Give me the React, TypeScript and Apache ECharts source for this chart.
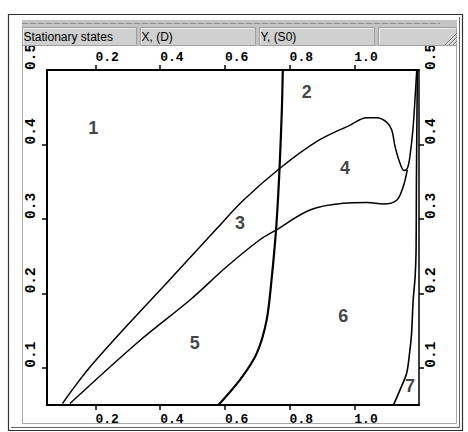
import React, { useEffect, useRef } from "react";
import * as echarts from "echarts";

// axis ticks / labels
const xTickValues = [0.2, 0.4, 0.6, 0.8, 1.0];
const yTickValues = [0.1, 0.2, 0.3, 0.4];
const yLabelValues = [0.1, 0.2, 0.3, 0.4, 0.5];

// upper boundary curve (regions 1/3/4 vs 2)
const upperX = [0.098, 0.131, 0.183, 0.296, 0.42, 0.575, 0.657, 0.77, 0.888, 0.987, 1.038, 1.069, 1.1, 1.116, 1.126, 1.141, 1.154, 1.164, 1.172, 1.182, 1.19, 1.193];
const upperY = [0.052, 0.072, 0.101, 0.156, 0.214, 0.287, 0.325, 0.368, 0.405, 0.426, 0.436, 0.436, 0.43, 0.419, 0.397, 0.375, 0.365, 0.368, 0.384, 0.424, 0.478, 0.5];

// lower boundary curve (regions 3/4 vs 5/6)
const lowerX = [0.121, 0.338, 0.492, 0.606, 0.708, 0.758, 0.863, 0.966, 1.04, 1.09, 1.131, 1.151, 1.16, 1.164];
const lowerY = [0.052, 0.137, 0.191, 0.236, 0.272, 0.285, 0.312, 0.321, 0.322, 0.32, 0.325, 0.343, 0.358, 0.366];

// near-vertical middle boundary
const midX = [0.58, 0.647, 0.698, 0.729, 0.745, 0.758, 0.765, 0.77, 0.776, 0.779];
const midY = [0.05, 0.084, 0.119, 0.164, 0.222, 0.285, 0.334, 0.379, 0.446, 0.5];

// right boundary (region 6 vs 7)
const rightX = [1.121, 1.141, 1.162, 1.172, 1.177, 1.182, 1.188, 1.191, 1.192, 1.195];
const rightY = [0.05, 0.07, 0.093, 0.124, 0.146, 0.191, 0.222, 0.258, 0.35, 0.5];

// region labels
const regionNames = ["1", "2", "3", "4", "5", "6", "7"];
const regionX = [0.193, 0.853, 0.647, 0.971, 0.507, 0.966, 1.172];
const regionY = [0.422, 0.471, 0.294, 0.368, 0.133, 0.169, 0.075];

// header captions
const headerCaptions = ["Stationary states", "X, (D)", "Y, (S0)"];

const zip = (xs: number[], ys: number[]) => xs.map((x, i) => [x, ys[i]]);

export default function App() {
  const ref = useRef<HTMLDivElement>(null);
  useEffect(() => {
    document.body.style.margin = "0";
    const chart = echarts.init(ref.current!, null, { renderer: "svg" });
    const labelFont = {
      fontFamily: "Liberation Mono",
      fontWeight: "bold" as const,
      color: "#000",
    };
    const fmt = (v: number) => v.toFixed(1);
    const xAxisBase = (position: "top" | "bottom", margin: number) => ({
      type: "value" as const,
      position,
      min: 0.05,
      max: 1.2,
      splitLine: { show: false },
      axisLine: { show: true, lineStyle: { color: "#000", width: 2 } },
      axisTick: {
        show: true,
        length: 5,
        customValues: xTickValues,
        lineStyle: { color: "#000", width: 1.5 },
      },
      axisLabel: {
        ...labelFont,
        fontSize: 13,
        customValues: xTickValues,
        formatter: fmt,
        align: "left",
        verticalAlign: "middle",
        margin,
      },
    });
    const yAxisBase = (position: "left" | "right", margin: number, lw: number) => ({
      type: "value" as const,
      position,
      min: 0.05,
      max: 0.5,
      splitLine: { show: false },
      axisLine: { show: true, lineStyle: { color: "#000", width: lw } },
      axisTick: {
        show: true,
        length: 5,
        customValues: yTickValues,
        lineStyle: { color: "#000", width: 1.5 },
      },
      axisLabel: {
        ...labelFont,
        fontSize: 14.5,
        customValues: yLabelValues,
        formatter: fmt,
        rotate: 90,
        align: "left",
        verticalAlign: "middle",
        margin,
      },
    });
    const lineSeries = (xs: number[], ys: number[], width: number, smooth: number) => ({
      type: "line" as const,
      data: zip(xs, ys),
      showSymbol: false,
      symbol: "none",
      smooth,
      lineStyle: { color: "#000", width },
      z: 3,
    });

    const headerCells = [
      [22, 137],
      [140, 256],
      [259, 375],
      [378, 457],
    ];
    const graphics: any[] = [
      {
        type: "rect",
        z: -5,
        shape: { x: 8.5, y: 14.5, width: 454, height: 416 },
        style: { fill: "none", stroke: "#333", lineWidth: 1.2 },
      },
      {
        type: "polyline",
        z: -5,
        shape: { points: [[459.5, 17], [459.5, 427.5], [11, 427.5]] },
        style: { stroke: "#666", lineWidth: 1, fill: "none" },
      },
      {
        type: "rect",
        z: -5,
        shape: { x: 22.5, y: 20.5, width: 434, height: 403 },
        style: { fill: "none", stroke: "#a8a8a8", lineWidth: 1 },
      },
      {
        type: "rect",
        z: 100,
        shape: { x: 22, y: 20, width: 435, height: 26 },
        style: { fill: "#c3c3c3" },
      },
      {
        type: "line",
        z: 101,
        shape: { x1: 22, y1: 23.5, x2: 440, y2: 23.5 },
        style: { stroke: "#8c8c8c", lineWidth: 1, lineDash: [6, 2] },
      },
    ];
    headerCells.forEach(([a, b]) => {
      graphics.push({
        type: "rect",
        z: 101,
        shape: { x: a + 0.5, y: 27.5, width: b - a - 1, height: 18 },
        style: { fill: "#cfcfcf", stroke: "#a0a0a0", lineWidth: 1 },
      });
      graphics.push({
        type: "polyline",
        z: 102,
        shape: { points: [[a + 1.5, 44.5], [a + 1.5, 28.5], [b - 1.5, 28.5]] },
        style: { stroke: "#eeeeee", lineWidth: 1, fill: "none" },
      });
    });
    headerCaptions.forEach((t, i) => {
      graphics.push({
        type: "text",
        z: 103,
        x: headerCells[i][0] + 1.5,
        y: 36.5,
        style: {
          text: t,
          font: "12px 'Liberation Sans', Arial, sans-serif",
          fill: "#000",
          verticalAlign: "middle",
          align: "left",
        },
      });
    });
    [0, 4, 8, 12].forEach((k) => {
      graphics.push({
        type: "line",
        z: 103,
        shape: { x1: 457 - 12 + k, y1: 45, x2: 457, y2: 33 + k },
        style: { stroke: "#707070", lineWidth: 1 },
      });
      graphics.push({
        type: "line",
        z: 103,
        shape: { x1: 457 - 11 + k, y1: 45, x2: 457, y2: 34 + k },
        style: { stroke: "#f4f4f4", lineWidth: 1 },
      });
    });

    chart.setOption({
      animation: false,
      backgroundColor: "#ffffff",
      grid: { left: 47, top: 70, width: 372, height: 335, containLabel: false },
      xAxis: [xAxisBase("bottom", 14), xAxisBase("top", 13)],
      yAxis: [yAxisBase("left", 16, 2), yAxisBase("right", 12, 1.5)],
      series: [
        lineSeries(upperX, upperY, 1.5, 0.35),
        lineSeries(lowerX, lowerY, 1.5, 0.35),
        lineSeries(midX, midY, 2.2, 0.3),
        lineSeries(rightX, rightY, 1.6, 0.3),
        {
          type: "scatter",
          symbolSize: 0,
          data: regionNames.map((n, i) => ({ value: [regionX[i], regionY[i]], name: n })),
          label: {
            show: true,
            position: "inside",
            formatter: (p: any) => p.name,
            fontFamily: "'Liberation Sans', Arial, sans-serif",
            fontWeight: "bold",
            fontSize: 18,
            color: "#111",
          },
          z: 4,
        },
      ],
      graphic: graphics,
    });
    return () => chart.dispose();
  }, []);
  return <div ref={ref} style={{ width: 468, height: 432 }} />;
}
